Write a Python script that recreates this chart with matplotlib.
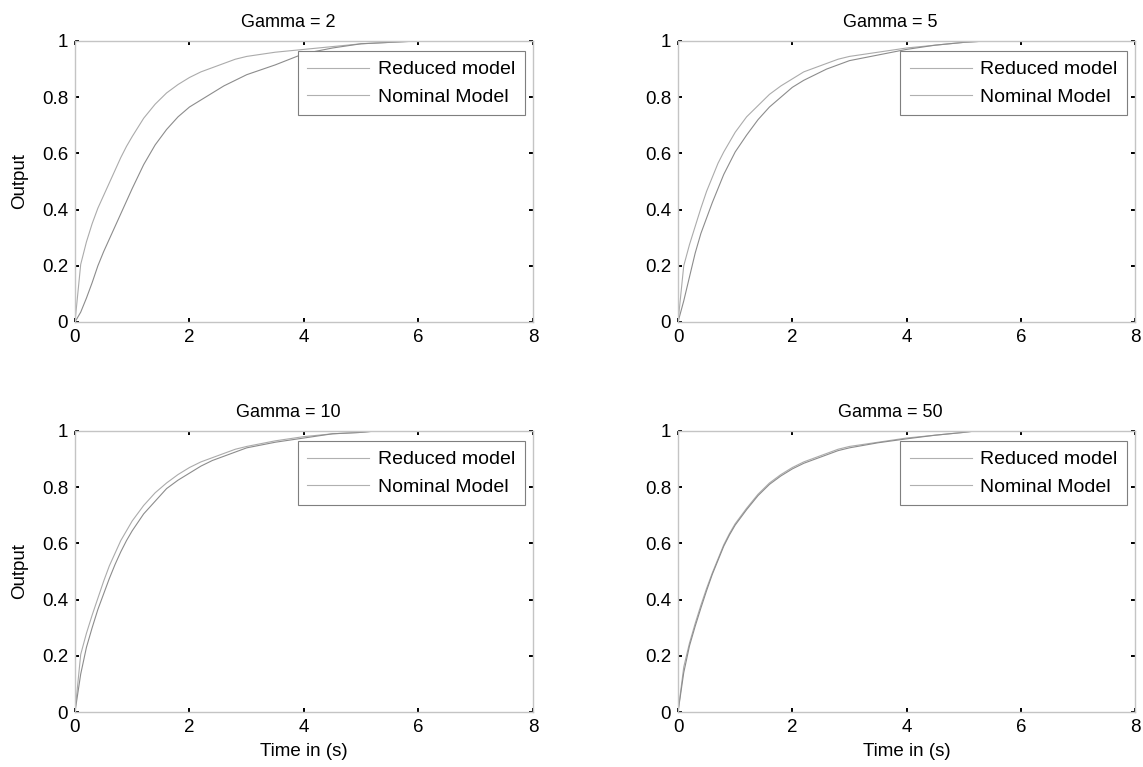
import matplotlib.pyplot as plt

plt.rcParams['font.family'] = ['Liberation Sans', 'DejaVu Sans']

gammas = [2, 5, 10, 50]

t_common = [0, 0.1, 0.2, 0.3, 0.4, 0.5, 0.6, 0.7, 0.8, 0.9, 1.0, 1.2, 1.4, 1.6,
            1.8, 2.0, 2.2, 2.4, 2.6, 2.8, 3.0, 3.5, 4.0, 4.5, 5.0]

t_g2 = t_common + [5.5, 6.0]
red_g2 = [0, 0.205, 0.285, 0.35, 0.405, 0.45, 0.495, 0.54, 0.585, 0.625, 0.66, 0.725, 0.775, 0.815,
          0.845, 0.87, 0.89, 0.905, 0.92, 0.935, 0.945, 0.96, 0.97, 0.98, 0.99, 0.995, 1.0]
nom_g2 = [0, 0.035, 0.085, 0.14, 0.2, 0.25, 0.295, 0.34, 0.385, 0.43, 0.475, 0.56, 0.63, 0.685,
          0.73, 0.765, 0.79, 0.815, 0.84, 0.86, 0.88, 0.915, 0.955, 0.975, 0.99, 0.995, 1.0]

t_g5 = t_common + [5.4]
red_g5 = [0, 0.2, 0.275, 0.34, 0.405, 0.465, 0.515, 0.565, 0.605, 0.64, 0.675, 0.73, 0.77, 0.81,
          0.84, 0.865, 0.89, 0.905, 0.92, 0.935, 0.945, 0.96, 0.975, 0.985, 0.995, 1.0]
nom_g5 = [0, 0.075, 0.16, 0.245, 0.315, 0.37, 0.425, 0.475, 0.525, 0.565, 0.605, 0.665, 0.72, 0.765,
          0.8, 0.835, 0.86, 0.88, 0.9, 0.915, 0.93, 0.95, 0.97, 0.985, 0.995, 1.0]

t_g10 = t_common + [5.25]
red_g10 = [0, 0.205, 0.28, 0.345, 0.405, 0.465, 0.52, 0.565, 0.61, 0.645, 0.68, 0.735, 0.78, 0.815,
           0.845, 0.87, 0.89, 0.905, 0.92, 0.935, 0.945, 0.965, 0.98, 0.99, 0.995, 1.0]
nom_g10 = [0, 0.135, 0.23, 0.3, 0.365, 0.42, 0.475, 0.525, 0.57, 0.61, 0.645, 0.705, 0.75, 0.795,
           0.825, 0.85, 0.875, 0.895, 0.91, 0.925, 0.94, 0.96, 0.975, 0.99, 0.995, 1.0]

t_g50 = t_common + [5.2]
red_g50 = [0, 0.16, 0.245, 0.315, 0.38, 0.44, 0.495, 0.545, 0.595, 0.635, 0.67, 0.725, 0.775, 0.815,
           0.845, 0.87, 0.89, 0.905, 0.92, 0.935, 0.945, 0.96, 0.975, 0.985, 0.995, 1.0]
nom_g50 = [0, 0.14, 0.235, 0.305, 0.37, 0.432, 0.49, 0.54, 0.59, 0.63, 0.665, 0.72, 0.77, 0.81,
           0.84, 0.865, 0.885, 0.9, 0.915, 0.93, 0.94, 0.958, 0.972, 0.985, 0.995, 1.0]

times = [t_g2, t_g5, t_g10, t_g50]
reduced = [red_g2, red_g5, red_g10, red_g50]
nominal = [nom_g2, nom_g5, nom_g10, nom_g50]

xticks = [0, 2, 4, 6, 8]
yticks = [0, 0.2, 0.4, 0.6, 0.8, 1]
ytick_labels = ['0', '0.2', '0.4', '0.6', '0.8', '1']

fig = plt.figure(figsize=(11.43, 7.67), dpi=100)
positions = [(0.0656, 0.5802, 0.4007, 0.3664), (0.5932, 0.5802, 0.4000, 0.3664),
             (0.0656, 0.0717, 0.4007, 0.3664), (0.5932, 0.0717, 0.4000, 0.3664)]

for i in range(4):
    ax = fig.add_axes(positions[i])
    ax.plot(times[i], reduced[i], color='#ababab', linewidth=0.8, label='Reduced model')
    ax.plot(times[i], nominal[i], color='#8c8c8c', linewidth=0.8, label='Nominal Model')
    ax.set_xlim(0, 8)
    ax.set_ylim(0, 1)
    ax.set_xticks(xticks)
    ax.set_xticklabels([str(v) for v in xticks])
    ax.set_yticks(yticks)
    ax.set_yticklabels(ytick_labels)
    for s in ax.spines.values():
        s.set_color('#c4c4c4')
        s.set_linewidth(1.0)
    ax.tick_params(direction='in', length=3, width=1.4, color='black', top=True, right=True,
                   labelsize=13.5, pad=5)
    ax.set_title(f'Gamma = {gammas[i]}', fontsize=13, x=0.465, pad=10)
    if i % 2 == 0:
        ax.set_ylabel('Output', fontsize=13.5, labelpad=10)
    if i >= 2:
        ax.set_xlabel('Time in (s)', fontsize=13.5, labelpad=5)
    leg = ax.legend(loc='upper right', bbox_to_anchor=(0.983, 0.964), borderaxespad=0,
                    fontsize=14, fancybox=False, edgecolor='#7f7f7f', framealpha=1,
                    handlelength=3.2, handletextpad=0.45, labelspacing=0.5, borderpad=0.5)
    leg.get_frame().set_linewidth(0.8)
    for ln in leg.get_lines():
        ln.set_color('#b0b0b0')

fig.savefig('out.png', dpi=100)
